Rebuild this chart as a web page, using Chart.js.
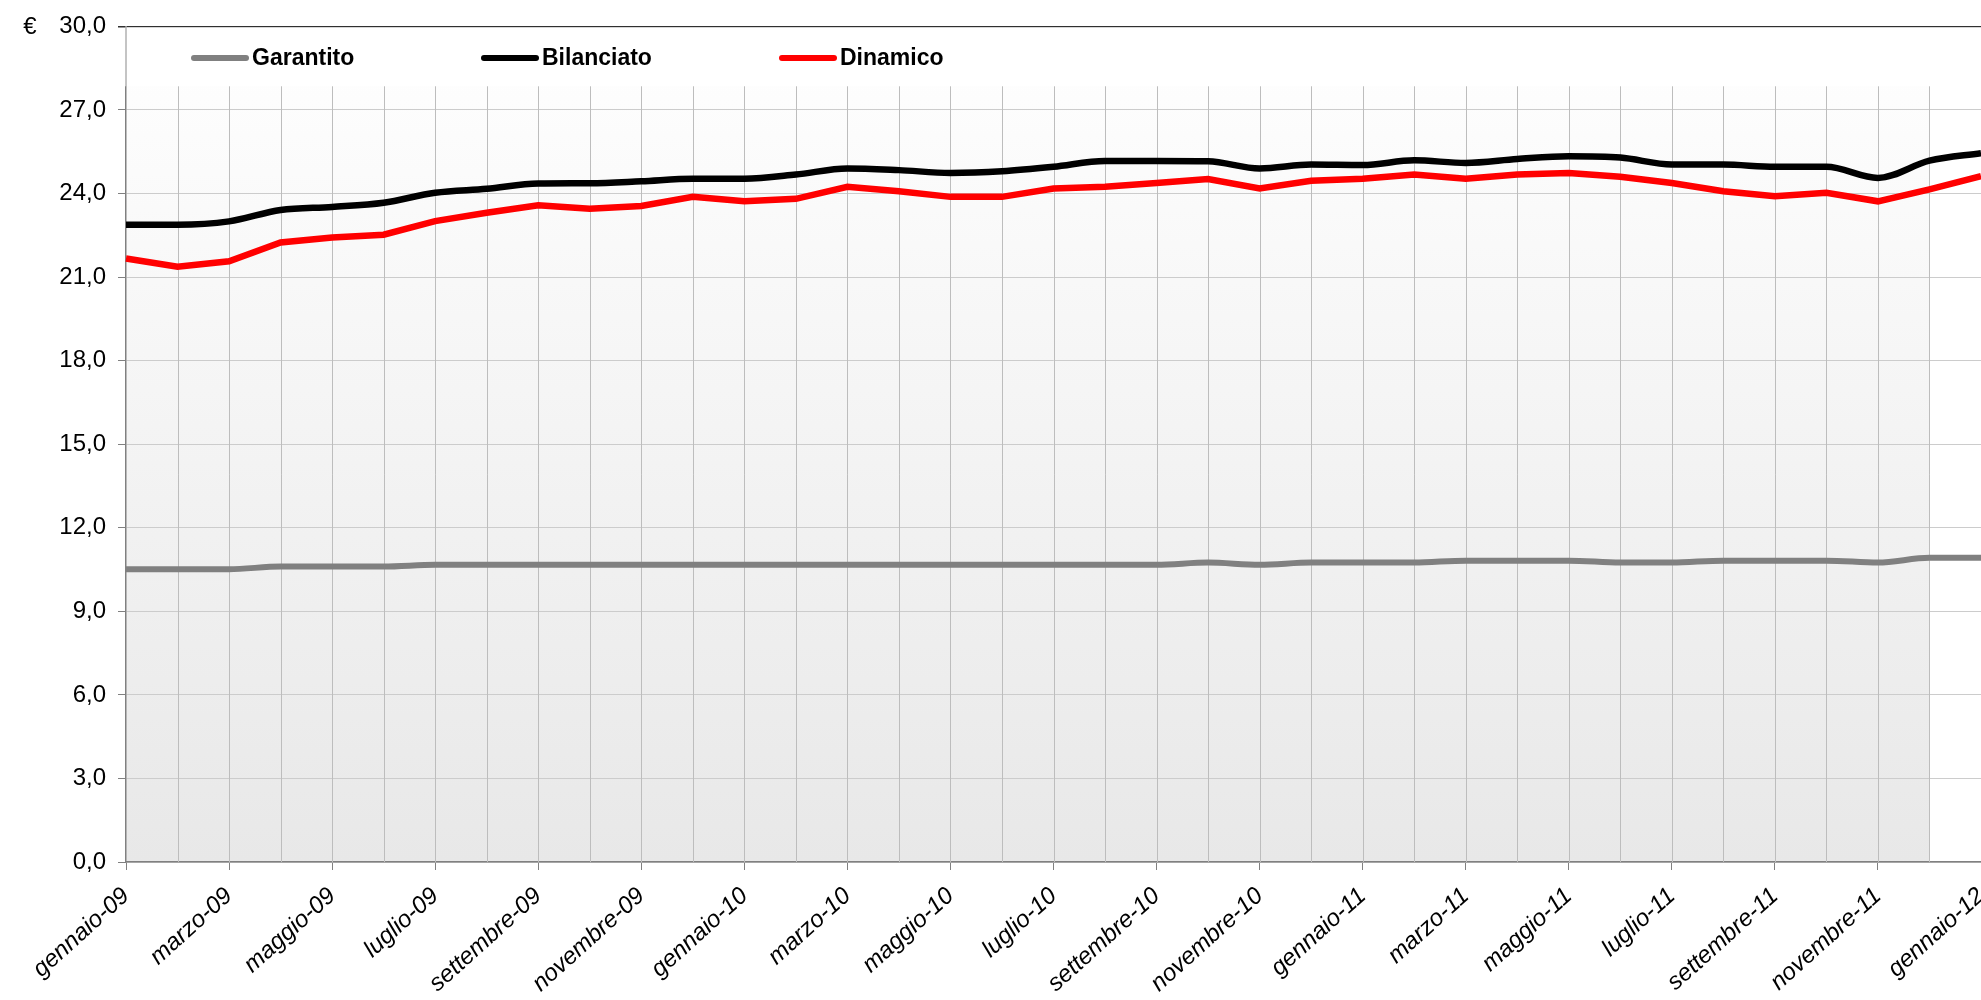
<!DOCTYPE html>
<html>
<head>
<meta charset="utf-8">
<script src="https://cdn.jsdelivr.net/npm/chart.js@4.4.1/dist/chart.umd.min.js"></script>
<style>
  html, body { margin: 0; padding: 0; background: #fff; }
</style>
</head>
<body>
<canvas id="fondi" width="1981" height="1000"></canvas>
<script>
const months = [
  'gennaio-09', 'febbraio-09', 'marzo-09', 'aprile-09', 'maggio-09', 'giugno-09',
  'luglio-09', 'agosto-09', 'settembre-09', 'ottobre-09', 'novembre-09', 'dicembre-09',
  'gennaio-10', 'febbraio-10', 'marzo-10', 'aprile-10', 'maggio-10', 'giugno-10',
  'luglio-10', 'agosto-10', 'settembre-10', 'ottobre-10', 'novembre-10', 'dicembre-10',
  'gennaio-11', 'febbraio-11', 'marzo-11', 'aprile-11', 'maggio-11', 'giugno-11',
  'luglio-11', 'agosto-11', 'settembre-11', 'ottobre-11', 'novembre-11', 'dicembre-11',
  'gennaio-12'
];

const garantito = [
  10.51, 10.51, 10.51, 10.61, 10.61, 10.61, 10.67, 10.67, 10.67, 10.67, 10.67, 10.67,
  10.67, 10.67, 10.67, 10.67, 10.67, 10.67, 10.67, 10.67, 10.67, 10.75, 10.67, 10.75,
  10.75, 10.75, 10.82, 10.82, 10.82, 10.75, 10.75, 10.82, 10.82, 10.82, 10.75, 10.92,
  10.92
];

const bilanciato = [
  22.88, 22.88, 23.00, 23.41, 23.52, 23.67, 24.03, 24.17, 24.36, 24.37, 24.44, 24.53,
  24.53, 24.68, 24.90, 24.84, 24.74, 24.80, 24.96, 25.17, 25.17, 25.16, 24.90, 25.04,
  25.02, 25.19, 25.10, 25.24, 25.34, 25.29, 25.04, 25.04, 24.96, 24.96, 24.56, 25.18,
  25.45
];

const dinamico = [
  21.67, 21.37, 21.57, 22.24, 22.42, 22.52, 23.01, 23.31, 23.58, 23.45, 23.55, 23.88,
  23.72, 23.81, 24.24, 24.08, 23.88, 23.88, 24.18, 24.24, 24.38, 24.52, 24.18, 24.46,
  24.53, 24.68, 24.53, 24.68, 24.74, 24.60, 24.38, 24.08, 23.90, 24.03, 23.72, 24.15,
  24.62
];

// grey band behind the lines (gennaio-09 .. dicembre-11)
const sfondo = months.map((m, i) => i < 36 ? 30 : null);

const FONT = '"Liberation Sans", Arial, sans-serif';

// legend drawn inside the plot, over a white box, plus drop lines and the € sign
const legendaInterna = {
  id: 'legendaInterna',
  beforeDatasetsDraw(chart) {
    const { ctx, chartArea: a, scales: { x, y } } = chart;
    const boxBottom = y.getPixelForValue(27.85);
    ctx.save();
    ctx.fillStyle = '#ffffff';
    ctx.fillRect(a.left + 1, a.top + 1, a.right - a.left, boxBottom - a.top - 1);
    // axis looks lighter behind the legend box
    ctx.fillStyle = '#c4c4c4';
    ctx.fillRect(a.left - 1, a.top + 1, 2, boxBottom - a.top - 1);

    ctx.strokeStyle = '#bdbdbd';
    ctx.lineWidth = 1;
    for (let i = 1; i < sfondo.length; i++) {
      if (sfondo[i] == null) continue;
      const px = Math.round(x.getPixelForValue(i)) + 0.5;
      ctx.beginPath();
      ctx.moveTo(px, y.getPixelForValue(0));
      ctx.lineTo(px, boxBottom);
      ctx.stroke();
    }

    const ly = 58;
    chart.data.datasets.forEach(ds => {
      if (ds.legendX == null) return;
      const lx = a.left + ds.legendX;
      ctx.strokeStyle = ds.borderColor;
      ctx.lineWidth = 6;
      ctx.lineCap = 'round';
      ctx.beginPath();
      ctx.moveTo(lx + 3, ly);
      ctx.lineTo(lx + 55, ly);
      ctx.stroke();
      ctx.fillStyle = '#000';
      ctx.font = 'bold 23px ' + FONT;
      ctx.textAlign = 'left';
      ctx.textBaseline = 'middle';
      ctx.fillText(ds.label, lx + 61, ly + 1);
    });

    ctx.font = '24px ' + FONT;
    ctx.textAlign = 'center';
    ctx.fillText('€', 30, y.getPixelForValue(30) + 1);
    ctx.restore();
  }
};

new Chart(document.getElementById('fondi'), {
  type: 'line',
  data: {
    labels: months,
    datasets: [
      {
        label: 'sfondo',
        data: sfondo,
        fill: 'origin',
        borderWidth: 0,
        pointRadius: 0,
        backgroundColor: c => {
          const a = c.chart.chartArea;
          if (!a) return '#eeeeee';
          const g = c.chart.ctx.createLinearGradient(0, a.top, 0, a.bottom);
          g.addColorStop(0, '#ffffff');
          g.addColorStop(1, '#e8e8e8');
          return g;
        }
      },
      {
        label: 'Garantito',
        data: garantito,
        borderColor: '#808080',
        borderWidth: 6,
        pointRadius: 0,
        cubicInterpolationMode: 'monotone',
        legendX: 65
      },
      {
        label: 'Bilanciato',
        data: bilanciato,
        borderColor: '#000000',
        borderWidth: 6.5,
        pointRadius: 0,
        cubicInterpolationMode: 'monotone',
        legendX: 355
      },
      {
        label: 'Dinamico',
        data: dinamico,
        borderColor: '#ff0000',
        borderWidth: 6.5,
        pointRadius: 0,
        tension: 0,
        legendX: 653
      }
    ]
  },
  options: {
    responsive: false,
    animation: false,
    layout: { padding: { top: 23, right: 0, left: 0, bottom: 0 } },
    plugins: {
      legend: { display: false },
      tooltip: { enabled: false },
      filler: { drawTime: 'beforeDraw' }
    },
    scales: {
      x: {
        offset: false,
        ticks: {
          autoSkip: false,
          minRotation: 42,
          maxRotation: 42,
          padding: 12,
          color: '#000',
          font: { family: FONT, size: 24, style: 'italic' },
          callback: (v, i) => i % 2 === 0 ? months[i] : ''
        },
        grid: {
          drawOnChartArea: false,
          tickLength: 8,
          tickColor: c => c.index % 2 === 0 ? '#808080' : 'rgba(0,0,0,0)'
        },
        border: { color: '#808080', width: 1.5 },
        afterFit: s => { s.height = 138; s.paddingRight = 0; }
      },
      y: {
        min: 0,
        max: 30,
        ticks: {
          stepSize: 3,
          padding: 12,
          color: '#000',
          font: { family: FONT, size: 24 },
          callback: v => v.toFixed(1).replace('.', ',')
        },
        grid: {
          color: c => c.tick && c.tick.value === 30 ? '#303030' : '#cccccc',
          lineWidth: c => c.tick && c.tick.value === 30 ? 1.5 : 1,
          tickColor: c => c.tick && c.tick.value === 30 ? '#303030' : '#808080',
          tickLength: 8
        },
        border: { color: '#808080', width: 1.5 },
        afterFit: s => { s.width = 126; }
      }
    }
  },
  plugins: [legendaInterna]
});
</script>
</body>
</html>
